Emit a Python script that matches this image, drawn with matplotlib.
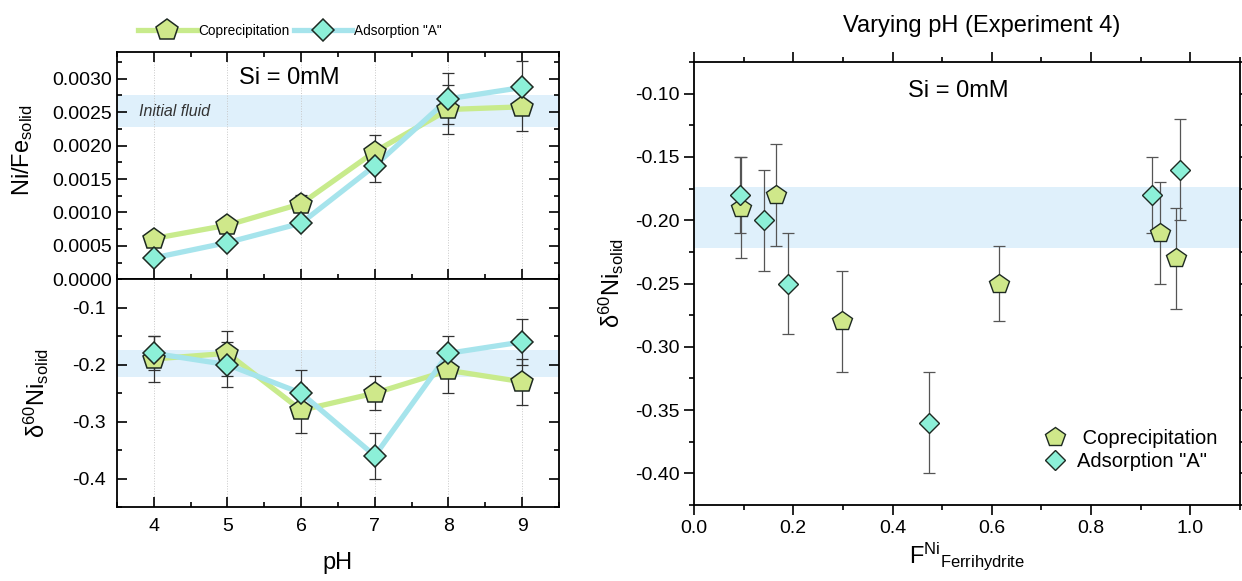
import matplotlib
matplotlib.use('Agg')
import matplotlib.pyplot as plt
from matplotlib.lines import Line2D
from matplotlib.ticker import MultipleLocator, FormatStrFormatter

# ---------------- data ----------------
ph = [4, 5, 6, 7, 8, 9]
nife_coprec = [0.00061, 0.00081, 0.00113, 0.00191, 0.00254, 0.00258]
nife_coprec_err = [0.00005, 0.00005, 0.00013, 0.00025, 0.00036, 0.00036]
nife_ads = [0.00032, 0.00055, 0.00084, 0.00170, 0.00270, 0.00287]
nife_ads_err = [0.00004, 0.00005, 0.00005, 0.00024, 0.00038, 0.00040]

d60_coprec = [-0.19, -0.18, -0.28, -0.25, -0.21, -0.23]
d60_coprec_err = [0.04, 0.04, 0.04, 0.03, 0.04, 0.04]
d60_ads = [-0.18, -0.20, -0.25, -0.36, -0.18, -0.16]
d60_ads_err = [0.03, 0.04, 0.04, 0.04, 0.03, 0.04]

f_coprec = [0.094, 0.166, 0.299, 0.614, 0.939, 0.971]
f_ads = [0.092, 0.142, 0.189, 0.474, 0.923, 0.979]

initial_nife = (0.00228, 0.00275)
initial_d60 = (-0.222, -0.174)

labels = ['Coprecipitation', 'Adsorption "A"']

# ---------------- style ----------------
plt.rcParams['font.family'] = ['Liberation Sans', 'DejaVu Sans']
plt.rcParams['mathtext.fontset'] = 'custom'
plt.rcParams['mathtext.rm'] = 'Liberation Sans'
plt.rcParams['mathtext.it'] = 'Liberation Sans:italic'
plt.rcParams['mathtext.default'] = 'regular'
plt.rcParams['axes.unicode_minus'] = False
plt.rcParams['axes.linewidth'] = 1.3

c_line_cop = '#c8eb8c'
c_face_cop = '#cfe88a'
c_line_ads = '#a6e4ec'
c_face_ads = '#8cf0d8'
c_edge = '#1e2a22'
c_band = '#dff0fb'
c_err = '#333333'

fig = plt.figure(figsize=(12.42, 5.81), dpi=100)
W, H = 1242.0, 581.0


def box(x0, y0, x1, y1):
    return [x0 / W, 1 - y1 / H, (x1 - x0) / W, (y1 - y0) / H]


ax1 = fig.add_axes(box(117, 52, 559, 279.3))
ax2 = fig.add_axes(box(117, 279.3, 559, 507))
ax3 = fig.add_axes(box(694, 62, 1240, 505))

ms_p = 16
ms_d = 11.5
lw = 3.8

# ---- top-left panel ----
ax1.axhspan(*initial_nife, color=c_band, lw=0, zorder=0)
for x in ph:
    ax1.axvline(x, color='#c8c8c8', lw=0.7, ls=':', zorder=0.5)
ax1.plot(ph, nife_coprec, color=c_line_cop, lw=lw, zorder=1)
ax1.plot(ph, nife_ads, color=c_line_ads, lw=lw, zorder=1.1)
ax1.errorbar(ph, nife_coprec, yerr=nife_coprec_err, fmt='none', ecolor=c_err,
             elinewidth=0.9, capsize=4, capthick=0.9, zorder=2)
ax1.errorbar(ph, nife_ads, yerr=nife_ads_err, fmt='none', ecolor=c_err,
             elinewidth=0.9, capsize=4, capthick=0.9, zorder=2)
ax1.plot(ph, nife_coprec, ls='none', marker='p', ms=ms_p, mfc=c_face_cop,
         mec=c_edge, mew=1.1, zorder=3)
ax1.plot(ph, nife_ads, ls='none', marker='D', ms=ms_d, mfc=c_face_ads,
         mec=c_edge, mew=1.1, zorder=3.1)
ax1.set_xlim(3.5, 9.5)
ax1.set_ylim(0, 0.0034)
ax1.yaxis.set_major_locator(MultipleLocator(0.0005))
ax1.yaxis.set_minor_locator(MultipleLocator(0.00025))
ax1.yaxis.set_major_formatter(FormatStrFormatter('%.4f'))
ax1.xaxis.set_major_locator(MultipleLocator(1))
ax1.xaxis.set_minor_locator(MultipleLocator(0.5))
ax1.tick_params(which='both', direction='in', top=True, right=True,
                labelbottom=False, labelsize=14, width=1.2)
ax1.tick_params(which='major', length=7)
ax1.tick_params(which='minor', length=3.5)
ax1.set_ylabel('Ni/Fe$_{solid}$', fontsize=17)
ax1.yaxis.set_label_coords(-0.185, 0.57)
ax1.text(0.05, 0.5 * (initial_nife[0] + initial_nife[1]), 'Initial fluid',
         transform=ax1.get_yaxis_transform(), fontsize=11.5, style='italic',
         color='#333333', va='center', ha='left')
ax1.text(0.39, 0.885, 'Si = 0mM', transform=ax1.transAxes, fontsize=17,
         ha='center', va='center')

# ---- bottom-left panel ----
ax2.axhspan(*initial_d60, color=c_band, lw=0, zorder=0)
for x in ph:
    ax2.axvline(x, color='#c8c8c8', lw=0.7, ls=':', zorder=0.5)
ax2.plot(ph, d60_coprec, color=c_line_cop, lw=lw, zorder=1)
ax2.plot(ph, d60_ads, color=c_line_ads, lw=lw, zorder=1.1)
ax2.errorbar(ph, d60_coprec, yerr=d60_coprec_err, fmt='none', ecolor=c_err,
             elinewidth=0.9, capsize=4, capthick=0.9, zorder=2)
ax2.errorbar(ph, d60_ads, yerr=d60_ads_err, fmt='none', ecolor=c_err,
             elinewidth=0.9, capsize=4, capthick=0.9, zorder=2)
ax2.plot(ph, d60_coprec, ls='none', marker='p', ms=ms_p, mfc=c_face_cop,
         mec=c_edge, mew=1.1, zorder=3)
ax2.plot(ph, d60_ads, ls='none', marker='D', ms=ms_d, mfc=c_face_ads,
         mec=c_edge, mew=1.1, zorder=3.1)
ax2.set_xlim(3.5, 9.5)
ax2.set_ylim(-0.45, -0.05)
ax2.yaxis.set_major_locator(MultipleLocator(0.1))
ax2.yaxis.set_minor_locator(MultipleLocator(0.05))
ax2.yaxis.set_major_formatter(FormatStrFormatter('%.1f'))
ax2.xaxis.set_major_locator(MultipleLocator(1))
ax2.xaxis.set_minor_locator(MultipleLocator(0.5))
ax2.tick_params(which='both', direction='in', top=False, right=True,
                labelsize=14, width=1.2, pad=8)
ax2.tick_params(which='major', length=7)
ax2.tick_params(which='minor', length=3.5)
ax2.set_ylabel('δ$^{60}$Ni$_{solid}$', fontsize=17)
ax2.yaxis.set_label_coords(-0.15, 0.5)
ax2.set_xlabel('pH', fontsize=17, labelpad=12)

# legend on top
h_cop = Line2D([], [], color=c_line_cop, lw=lw, marker='p', ms=ms_p,
               mfc=c_face_cop, mec=c_edge, mew=1.1)
h_ads = Line2D([], [], color=c_line_ads, lw=lw, marker='D', ms=ms_d,
               mfc=c_face_ads, mec=c_edge, mew=1.1)
fig.legend([h_cop, h_ads], labels, loc='center left',
           bbox_to_anchor=(138 / W, 1 - 30.5 / H), ncol=2, frameon=False,
           fontsize=9.8, handlelength=4.3, handletextpad=0.15,
           columnspacing=0.3, borderpad=0, borderaxespad=0)

# ---- right panel ----
ax3.axhspan(*initial_d60, color=c_band, lw=0, zorder=0)
ax3.errorbar(f_coprec, d60_coprec, yerr=d60_coprec_err, fmt='none',
             ecolor='#555555', elinewidth=0.9, capsize=4, capthick=0.9, zorder=2)
ax3.errorbar(f_ads, d60_ads, yerr=d60_ads_err, fmt='none',
             ecolor='#555555', elinewidth=0.9, capsize=4, capthick=0.9, zorder=2)
ax3.plot(f_coprec, d60_coprec, ls='none', marker='p', ms=ms_p - 1,
         mfc=c_face_cop, mec=c_edge, mew=1.0, zorder=3, label=' ' + labels[0])
ax3.plot(f_ads, d60_ads, ls='none', marker='D', ms=ms_d - 1,
         mfc=c_face_ads, mec=c_edge, mew=1.0, zorder=3.1, label=labels[1])
ax3.set_xlim(0, 1.1)
ax3.set_ylim(-0.425, -0.075)
ax3.xaxis.set_major_locator(MultipleLocator(0.2))
ax3.xaxis.set_minor_locator(MultipleLocator(0.1))
ax3.xaxis.set_major_formatter(FormatStrFormatter('%.1f'))
ax3.yaxis.set_major_locator(MultipleLocator(0.05))
ax3.yaxis.set_minor_locator(MultipleLocator(0.025))
ax3.yaxis.set_major_formatter(FormatStrFormatter('%.2f'))
ax3.tick_params(which='both', direction='out', top=True, right=True,
                labelsize=14, width=1.2)
ax3.tick_params(which='major', length=7)
ax3.tick_params(which='minor', length=3.5)
ax3.set_ylabel('δ$^{60}$Ni$_{solid}$', fontsize=17)
ax3.yaxis.set_label_coords(-0.125, 0.5)
ax3.set_xlabel('F$^{Ni}$$_{Ferrihydrite}$', fontsize=17, labelpad=3)
ax3.text(0.485, 0.935, 'Si = 0mM', transform=ax3.transAxes, fontsize=17,
         ha='center', va='center')
ax3.legend(loc='upper left', bbox_to_anchor=(1043 / W, 1 - 429 / H),
           bbox_transform=fig.transFigure, frameon=False, fontsize=14.5,
           handlelength=1.2, handletextpad=0.5, labelspacing=0.2,
           borderpad=0, borderaxespad=0)
fig.text(982 / W, 1 - 26 / H, 'Varying pH (Experiment 4)', fontsize=17,
         ha='center', va='center')

fig.savefig('out.png', dpi=100)
